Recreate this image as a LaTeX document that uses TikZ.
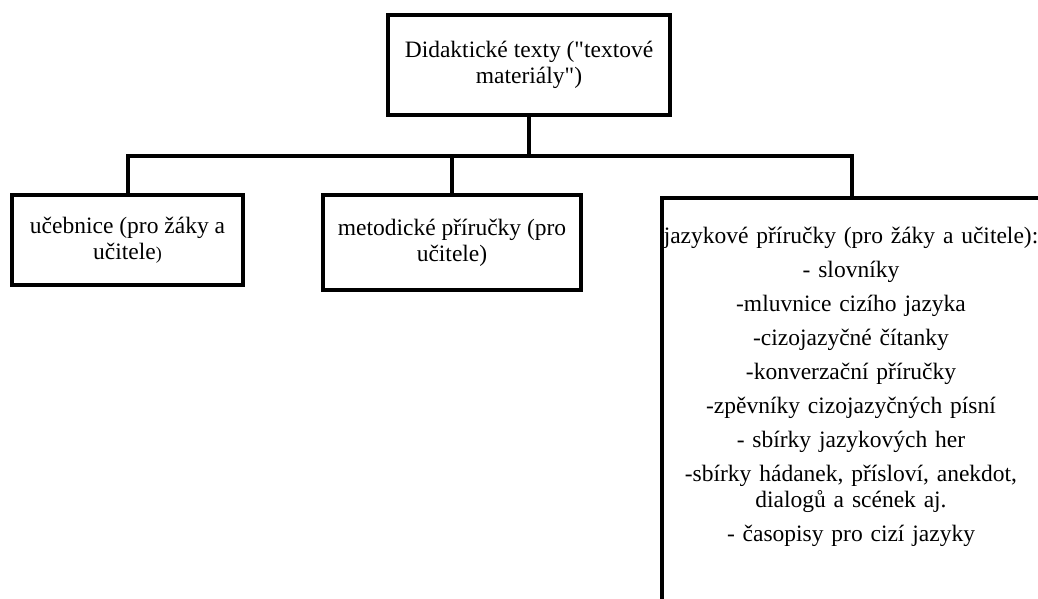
\documentclass[tikz,border=0pt]{standalone}
\usepackage{fontspec}
\setmainfont{Liberation Serif}[Ligatures=TeXOff]
\usepackage{xcolor}
\usepackage{tikz}

\begin{document}
\begin{tikzpicture}[x=1pt, y=-1pt,
	box/.style={draw, line width=4pt, align=center, inner sep=0pt},
	link/.style={line width=4pt},
	every node/.style={font=\fontsize{23.5}{26}\selectfont}]
	
	    \useasboundingbox (0,0) rectangle (1038,599);
	    \clip (0,0) rectangle (1038,599);
	
	    \node[box, minimum width=282pt, minimum height=100pt] (root) at (529,65) {Didaktické texty ("textové\\materiály")};
	    \node[box, minimum width=231pt, minimum height=90pt] (ucebnice) at (127.5,240) {učebnice (pro žáky a\\učitele{\fontsize{18}{26}\selectfont)}};
	    \node[box, minimum width=258pt, minimum height=95pt] (metodika) at (452,242.5) {metodické příručky (pro\\učitele)};
	    \node[box, minimum width=380pt, minimum height=450pt, anchor=north] (jazyk) at (852,196) {};
	    \node[anchor=north, text width=376pt, align=center, inner sep=0pt] (seznam) at (851,227) {jazykové příručky (pro žáky a učitele):\\[8pt]
	    - slovníky\\[8pt]
	    -mluvnice cizího jazyka\\[8pt]
	    -cizojazyčné čítanky\\[8pt]
	    -konverzační příručky\\[8pt]
	    -zpěvníky cizojazyčných písní\\[8pt]
	    - sbírky jazykových her\\[8pt]
	    -sbírky hádanek, přísloví, anekdot,\\
	    dialogů a scének aj.\\[8pt]
	    - časopisy pro cizí jazyky};
	
	    \coordinate (bus) at (529,156);
	    \draw[link] (root.south) -- (bus);
	    \draw[link] (ucebnice.north) |- (bus) -| (jazyk.north);
	    \draw[link] (metodika.north) -- (metodika.north |- bus);
	
	\end{tikzpicture}
\end{document}
